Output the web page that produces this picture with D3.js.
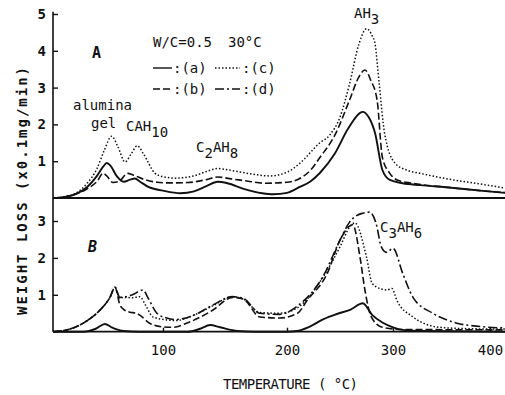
<!DOCTYPE html>
<html>
<head>
<meta charset="utf-8">
<script src="https://cdn.jsdelivr.net/npm/d3@7"></script>
<style>
  html, body { margin: 0; padding: 0; background: #fff; }
  svg text { font-family: "DejaVu Sans Mono", monospace; fill: #111; }
</style>
</head>
<body>
<div id="chart"></div>
<script>
// temperature (°C) vs weight loss (x0.1 mg/min)
const xTicks = [100, 200, 300, 400];
const yTicksA = [1, 2, 3, 4, 5];
const yTicksB = [1, 2, 3];

// panel A
const aA = [[10,0],[20,0.03],[28,0.1],[38,0.3],[46,0.6],[51,0.85],[54,0.95],[57,0.88],[62,0.6],[68,0.44],[73,0.5],[77,0.53],[81,0.45],[88,0.3],[100,0.2],[114,0.13],[125,0.18],[135,0.32],[144,0.44],[152,0.4],[165,0.25],[180,0.13],[189,0.1],[200,0.14],[212,0.3],[222,0.45],[231,0.68],[245,1.2],[258,1.9],[271.5,2.34],[277,2.2],[283,1.77],[290,0.76],[297,0.49],[310,0.4],[328,0.35],[360,0.28],[390,0.2],[415,0.14]];
const bA = [[10,0],[20,0.03],[28,0.1],[38,0.25],[46,0.45],[51,0.67],[54,0.6],[59,0.42],[64,0.45],[71,0.67],[76,0.62],[85,0.5],[95,0.43],[106,0.41],[120,0.42],[135,0.5],[144,0.57],[155,0.52],[170,0.45],[182,0.4],[200,0.43],[212,0.53],[222,0.75],[231,1.1],[245,1.7],[259,2.66],[268,3.3],[273.5,3.48],[279,3.2],[285,2.66],[290,1.1],[297,0.67],[305,0.48],[320,0.4],[360,0.28],[390,0.2],[415,0.15]];
const cA = [[10,0],[20,0.04],[28,0.12],[38,0.4],[46,0.8],[52,1.3],[58,1.68],[63,1.4],[69,0.98],[74,1.2],[79,1.42],[84,1.2],[93.5,0.67],[100,0.58],[110,0.54],[125,0.6],[135,0.72],[144,0.8],[155,0.75],[170,0.66],[186,0.6],[200,0.7],[212,0.94],[231,1.5],[240,1.7],[250,2.2],[259,3.1],[268,4.2],[275,4.6],[280.5,4.4],[283,4.2],[287,3.1],[292,1.77],[302,0.95],[315,0.75],[328,0.67],[360,0.5],[390,0.38],[415,0.27]];

// panel B
const aB = [[10,0],[35,0],[45,0.08],[52.5,0.21],[58,0.12],[68,0.02],[80,0],[120,0],[130,0.08],[138,0.18],[146,0.12],[160,0.02],[175,0],[200,0],[209,0.02],[220,0.12],[235,0.35],[247,0.48],[260,0.6],[271.5,0.77],[280.5,0.45],[290,0.25],[300,0.12],[310,0.05],[330,0.02],[415,0]];
const bB = [[10,0],[21.5,0.05],[38,0.3],[48.5,0.59],[56.6,0.93],[60.7,1.2],[64.8,0.72],[68,0.6],[72.8,0.53],[78,0.5],[81,0.45],[89,0.23],[100,0.13],[108,0.12],[119,0.23],[140,0.58],[156,0.93],[165,0.88],[178,0.4],[194,0.37],[210,0.5],[219,0.85],[238,1.58],[250,2.48],[262,2.9],[269,2.0],[273.5,1.13],[279.5,0.4],[290,0.12],[310,0.06],[415,0.05]];
const cB = [[10,0],[21.5,0.05],[38,0.3],[48.5,0.59],[56.6,0.93],[60.7,1.2],[64.8,0.9],[67,0.93],[75,0.92],[81,0.95],[86,0.7],[91.8,0.4],[103,0.32],[110,0.3],[125,0.45],[140,0.7],[156,0.95],[165,0.88],[178,0.52],[194,0.5],[210,0.65],[234,1.48],[250,2.3],[259,2.83],[264,2.95],[275,2.02],[280.5,1.3],[290,1.15],[294,1.13],[299,1.17],[304,0.85],[320.6,0.4],[348,0.12],[380,0.08],[415,0.07]];
const dB = [[10,0],[21.5,0.05],[38,0.3],[48.5,0.59],[56.6,0.93],[60.7,1.2],[64.8,0.93],[75,1.0],[83.6,1.13],[88,0.9],[95,0.5],[103,0.37],[110,0.33],[125,0.45],[140,0.72],[156,0.95],[165,0.9],[178,0.5],[194,0.47],[210,0.7],[234,1.5],[250,2.48],[259,2.97],[270,3.2],[278,3.24],[284,2.94],[289,2.3],[294,2.15],[300,2.26],[310,1.58],[320.6,0.93],[341,0.5],[366,0.23],[390,0.14],[415,0.1]];

const width = 505;
const height = 395;

const styles = {
  a: { dash: null, w: 1.9 },
  b: { dash: "7,3", w: 1.6 },
  c: { dash: "1.5,2", w: 1.5 },
  d: { dash: "9,3,2,3", w: 1.6 },
};

// the scan's temperature axis is not evenly spaced, so use a polylinear scale
const x = d3.scaleLinear()
  .domain([10, 100, 200, 300, 400, 415])
  .range([53, 163, 287, 393, 490, 505]);

const yA = d3.scaleLinear().domain([0, 5]).range([198, 14]);
const yB = d3.scaleLinear().domain([0, 3]).range([331.7, 221]);

const svg = d3.select("#chart").append("svg")
  .attr("width", width)
  .attr("height", height)
  .attr("viewBox", `0 0 ${width} ${height}`);

function drawSeries(data, y, key) {
  const line = d3.line()
    .x((d) => x(d[0]))
    .y((d) => y(d[1]))
    .curve(d3.curveMonotoneX);
  svg.append("path")
    .attr("d", line(data))
    .attr("fill", "none")
    .attr("stroke", "#111")
    .attr("stroke-width", styles[key].w)
    .attr("stroke-dasharray", styles[key].dash)
    .attr("stroke-linejoin", "round");
}

drawSeries(cA, yA, "c");
drawSeries(bA, yA, "b");
drawSeries(aA, yA, "a");

drawSeries(dB, yB, "d");
drawSeries(cB, yB, "c");
drawSeries(bB, yB, "b");
drawSeries(aB, yB, "a");

// baselines and vertical axis line
svg.append("line")
  .attr("x1", x(10)).attr("x2", x(415))
  .attr("y1", yA(0)).attr("y2", yA(0))
  .attr("stroke", "#111").attr("stroke-width", 1.8);
svg.append("line")
  .attr("x1", x(10)).attr("x2", x(415))
  .attr("y1", yB(0)).attr("y2", yB(0))
  .attr("stroke", "#111").attr("stroke-width", 1.8);
svg.append("line")
  .attr("x1", x(10)).attr("x2", x(10))
  .attr("y1", yA(5.06)).attr("y2", yB(0))
  .attr("stroke", "#111").attr("stroke-width", 1.6);

const styleAxis = (bold) => (g) => {
  g.select(".domain").remove();
  g.selectAll(".tick line").attr("stroke", "#111").attr("stroke-width", 1.4);
  g.selectAll(".tick text")
    .attr("font-family", "DejaVu Sans Mono")
    .attr("font-size", 14)
    .attr("font-weight", bold ? "bold" : "normal")
    .attr("fill", "#111");
};

svg.append("g")
  .attr("transform", `translate(${x(10)},0)`)
  .call(d3.axisLeft(yA).tickValues(yTicksA).tickFormat(d3.format("d")).tickSizeInner(-5).tickSizeOuter(0).tickPadding(7))
  .call(styleAxis(true));

svg.append("g")
  .attr("transform", `translate(${x(10)},0)`)
  .call(d3.axisLeft(yB).tickValues(yTicksB).tickFormat(d3.format("d")).tickSizeInner(-5).tickSizeOuter(0).tickPadding(7))
  .call(styleAxis(true));

svg.append("g")
  .attr("transform", `translate(0,${yB(0)})`)
  .call(d3.axisBottom(x).tickValues(xTicks).tickFormat(d3.format("d")).tickSizeInner(-4).tickSizeOuter(0).tickPadding(13))
  .call(styleAxis(false));

// axis titles
svg.append("text")
  .attr("transform", `translate(27,${191}) rotate(-90)`)
  .attr("text-anchor", "middle")
  .attr("font-size", 14)
  .attr("font-weight", "bold")
  .attr("textLength", 248)
  .attr("lengthAdjust", "spacing")
  .text("WEIGHT LOSS (x0.1mg/min)");

svg.append("text")
  .attr("x", 223)
  .attr("y", 389)
  .attr("font-size", 14)
  .attr("textLength", 135)
  .attr("lengthAdjust", "spacing")
  .text("TEMPERATURE ( °C)");

// panel labels
svg.append("text").attr("x", 92).attr("y", 58).attr("font-size", 15).attr("font-weight", "bold").text("A");
svg.append("text").attr("x", 88).attr("y", 252).attr("font-size", 15).attr("font-weight", "bold").attr("font-style", "italic").text("B");

// legend
svg.append("text").attr("x", 153).attr("y", 47).attr("font-size", 14).text("W/C=0.5");
svg.append("text").attr("x", 228).attr("y", 47).attr("font-size", 14).text("30°C");

const legendRows = [
  { key: "a", label: ":(a)", x: 153, y: 68 },
  { key: "c", label: ":(c)", x: 215, y: 68 },
  { key: "b", label: ":(b)", x: 153, y: 89 },
  { key: "d", label: ":(d)", x: 215, y: 89 },
];
legendRows.forEach((r) => {
  svg.append("line")
    .attr("x1", r.x).attr("x2", r.x + (r.key === "c" || r.key === "d" ? 25 : 19))
    .attr("y1", r.y).attr("y2", r.y)
    .attr("stroke", "#111")
    .attr("stroke-width", 1.4)
    .attr("stroke-dasharray", styles[r.key].dash);
  svg.append("text")
    .attr("x", r.x + (r.key === "c" || r.key === "d" ? 27 : 20))
    .attr("y", r.y + 5)
    .attr("font-size", 14)
    .text(r.label);
});

// peak annotations
svg.append("text").attr("x", 73).attr("y", 110).attr("font-size", 14).text("alumina");
svg.append("text").attr("x", 91).attr("y", 128).attr("font-size", 14).text("gel");

function chem(parts, x0, y0) {
  const t = svg.append("text").attr("x", x0).attr("y", y0).attr("font-size", 14);
  parts.forEach(([s, sub]) => {
    t.append("tspan")
      .attr("dy", sub ? 6 : (t.node().childNodes.length ? -6 : 0))
      .text(s);
  });
}
chem([["CAH", false], ["10", true]], 126, 137);
chem([["C", false], ["2", true], ["AH", false], ["8", true]], 196, 158);
chem([["AH", false], ["3", true]], 354, 24);
chem([["C", false], ["3", true], ["AH", false], ["6", true]], 380, 238);
</script>
</body>
</html>
